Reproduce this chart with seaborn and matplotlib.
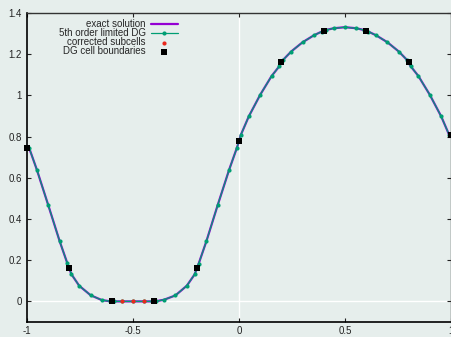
import matplotlib
matplotlib.use("Agg")
import matplotlib.pyplot as plt
import seaborn as sns

# DG solution at the Gauss nodes of each cell
dg_x = [-0.9906, -0.9538, -0.9, -0.8462, -0.8094,
        -0.7906, -0.7538, -0.7, -0.6462, -0.6094,
        -0.5906, -0.5538, -0.5, -0.4462, -0.4094,
        -0.3906, -0.3538, -0.3, -0.2462, -0.2094,
        -0.1906, -0.1538, -0.1, -0.0462, -0.0094,
        0.0094, 0.0462, 0.1, 0.1538, 0.1906,
        0.2094, 0.2462, 0.3, 0.3538, 0.3906,
        0.4094, 0.4462, 0.5, 0.5538, 0.5906,
        0.6094, 0.6462, 0.7, 0.7538, 0.7906,
        0.8094, 0.8462, 0.9, 0.9538, 0.9906]
dg_y = [0.747, 0.640, 0.468, 0.293, 0.184,
        0.132, 0.076, 0.030, 0.006, 0.001,
        0.0, 0.0, 0.0, 0.0, 0.0,
        0.001, 0.008, 0.029, 0.076, 0.131,
        0.182, 0.292, 0.469, 0.640, 0.747,
        0.810, 0.898, 1.003, 1.094, 1.142,
        1.174, 1.213, 1.258, 1.292, 1.310,
        1.317, 1.326, 1.331, 1.326, 1.317,
        1.310, 1.292, 1.258, 1.213, 1.174,
        1.142, 1.094, 1.003, 0.898, 0.810]

# exact solution overlaps the DG curve
exact_x = dg_x
exact_y = dg_y

# corrected subcells
sub_x = [-0.5538, -0.5, -0.4462]
sub_y = [0.0, 0.0, 0.0]

# DG cell boundaries
bnd_x = [-1.0, -0.8, -0.6, -0.4, -0.2, 0.0, 0.2, 0.4, 0.6, 0.8, 1.0]
bnd_y = [0.745, 0.160, 0.0, 0.0, 0.160, 0.779, 1.162, 1.313, 1.313, 1.162, 0.806]

x_ticks = [-1, -0.5, 0, 0.5, 1]
x_labels = ["-1", "-0.5", "0", "0.5", "1"]
y_ticks = [0, 0.2, 0.4, 0.6, 0.8, 1.0, 1.2, 1.4]
y_labels = ["0", "0.2", "0.4", "0.6", "0.8", "1", "1.2", "1.4"]

bg = "#e6eeec"
sns.set_theme(style="ticks")
plt.rcParams["font.family"] = ["Liberation Sans", "DejaVu Sans"]
plt.rcParams["axes.unicode_minus"] = False

fig = plt.figure(figsize=(4.52, 3.37), dpi=100, facecolor=bg)
ax = fig.add_axes([27 / 452, 15 / 337, 424 / 452, 309 / 337])
ax.set_facecolor(bg)

ax.axhline(0, color="white", lw=1.0, zorder=0.5)
ax.axvline(0, color="white", lw=1.0, zorder=0.5)

sns.lineplot(x=exact_x, y=exact_y, ax=ax, color="#9400d3", lw=1.6,
             estimator=None, label="exact solution", zorder=2)
sns.lineplot(x=dg_x, y=dg_y, ax=ax, color="#009e73", lw=0.9, marker="o",
             markersize=3.0, markeredgewidth=0, estimator=None,
             label="5th order limited DG", zorder=3)
sns.scatterplot(x=sub_x, y=sub_y, ax=ax, color="#e8291c", s=9, linewidth=0,
                label="corrected subcells", zorder=4)
sns.scatterplot(x=bnd_x, y=bnd_y, ax=ax, color="black", marker="s", s=14,
                linewidth=0, label="DG cell boundaries", zorder=5, clip_on=False)

ax.set_xlim(-1, 1)
ax.set_ylim(-0.1, 1.4)
ax.set_xticks(x_ticks, x_labels)
ax.set_yticks(y_ticks, y_labels)
ax.tick_params(axis="both", direction="in", length=3, width=0.8, labelsize=7,
               colors="#222222", top=True, right=True)
ax.tick_params(axis="x", pad=3)
ax.tick_params(axis="y", pad=3.5)
for side in ["left", "bottom"]:
    ax.spines[side].set_linewidth(1.2)
    ax.spines[side].set_color("black")
for side in ["top", "right"]:
    ax.spines[side].set_linewidth(1.0)
    ax.spines[side].set_color("#333333")
ax.set_xlabel("")
ax.set_ylabel("")

leg = ax.legend(loc="upper right", bbox_to_anchor=(0.356, 0.98), frameon=False,
                markerfirst=False, fontsize=7, handlelength=2.8,
                handletextpad=0.5, labelspacing=-0.1, borderpad=0,
                borderaxespad=0)

fig.savefig("out.png", dpi=100, facecolor=bg)
